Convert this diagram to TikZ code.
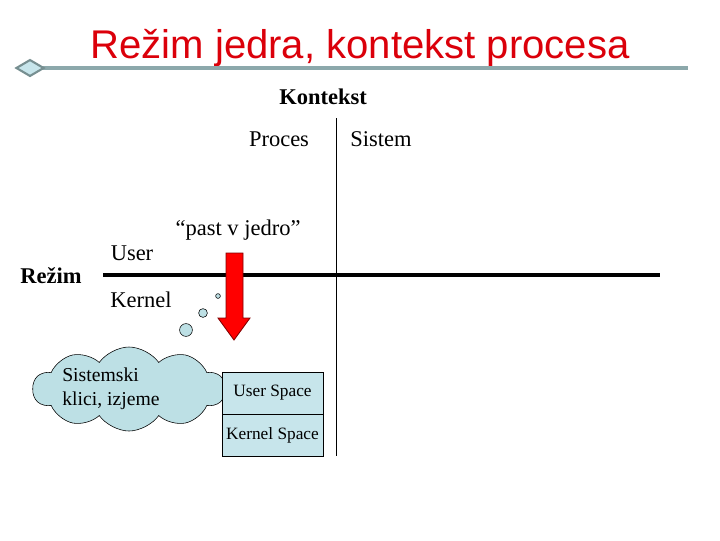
\documentclass[tikz,border=0pt]{standalone}
\usepackage{fontspec}
\setmainfont{Liberation Serif}
\newfontfamily\titlefont{Liberation Sans}
\usetikzlibrary{shapes.geometric,shapes.symbols}
\definecolor{titlered}{rgb}{0.86, 0, 0.04}
\definecolor{barteal}{rgb}{0.55, 0.66, 0.67}
\definecolor{paleblue}{rgb}{0.78, 0.9, 0.92}
\definecolor{cloudblue}{rgb}{0.74, 0.88, 0.9}
\definecolor{darkred}{rgb}{0.5, 0, 0}

\tikzset{
  lbl/.style={font=\fontsize{16}{18}\selectfont, inner sep=0pt},
  boldlbl/.style={lbl, font=\fontsize{16}{18}\selectfont\bfseries},
  spacebox/.style={draw, fill=paleblue, minimum width=2.525cm, minimum height=1.05cm, inner sep=0pt, font=\fontsize{12.3}{14}\selectfont},
  bubble/.style={circle, draw, fill=cloudblue, inner sep=0pt}
}

\begin{document}
\begin{tikzpicture}[x=0.025cm, y=-0.025cm]
    \useasboundingbox (0,0) rectangle (720,540);

    % title and bar
    \node[text=titlered, font=\fontsize{28.5}{32}\selectfont\titlefont] (title) at (360,48) {Režim jedra, kontekst procesa};
    \coordinate (barL) at (30,68);
    \coordinate (barR) at (688,68);
    \draw[barteal, line width=3pt] (barL) -- (barR);
    \node[diamond, draw=barteal!85!black, fill=paleblue, line width=1.5pt, minimum width=0.7cm, minimum height=0.42cm, inner sep=0pt] (dia) at (barL) {};

    % context header
    \node[boldlbl] (kontekst) at (323,97) {Kontekst};
    \node[lbl] (proces) at (279,139) {Proces};
    \node[lbl] (sistem) at (381,139) {Sistem};

    % mode labels
    \node[boldlbl] (rezim) at (51,276) {Režim};
    \node[lbl] (user) at (132,253) {User};
    \node[lbl] (kernel) at (141,300) {Kernel};
    \node[lbl] (past) at (238,230) {“past v jedro”};

    % axes
    \coordinate (vtop) at (336,118);
    \coordinate (vbot) at (336,456);
    \coordinate (hleft) at (103,275);
    \coordinate (hright) at (660,275);
    \draw[line width=0.6pt] (vtop) -- (vbot);
    \draw[line width=2.2pt] (hleft) -- (hright);

    % trap arrow
    \draw[darkred, fill=red, line width=0.6pt] (226,253) -- (243,253) -- (243,318) -- (250,318)
        -- (234,340) -- (218,318) -- (226,318) -- cycle;

    % thought cloud
    \node[bubble, minimum size=0.12cm] (b1) at (218,296) {};
    \node[bubble, minimum size=0.22cm] (b2) at (203,313) {};
    \node[bubble, minimum size=0.32cm] (b3) at (186,330) {};
    \node[cloud, cloud puffs=10, cloud puff arc=110, aspect=2.3, draw, fill=cloudblue,
          minimum width=4.8cm, minimum height=2.1cm, inner sep=0pt] (cloud) at (129,389) {};
    \node[font=\fontsize{14}{17}\selectfont, align=left, inner sep=0pt, anchor=west] (cltext) at (62,389) {Sistemski\\klici, izjeme};

    % address spaces
    \node[spacebox] (uspace) at (272.5,393) {User Space};
    \node[spacebox, anchor=north] (kspace) at (uspace.south) {Kernel Space};

\end{tikzpicture}
\end{document}
